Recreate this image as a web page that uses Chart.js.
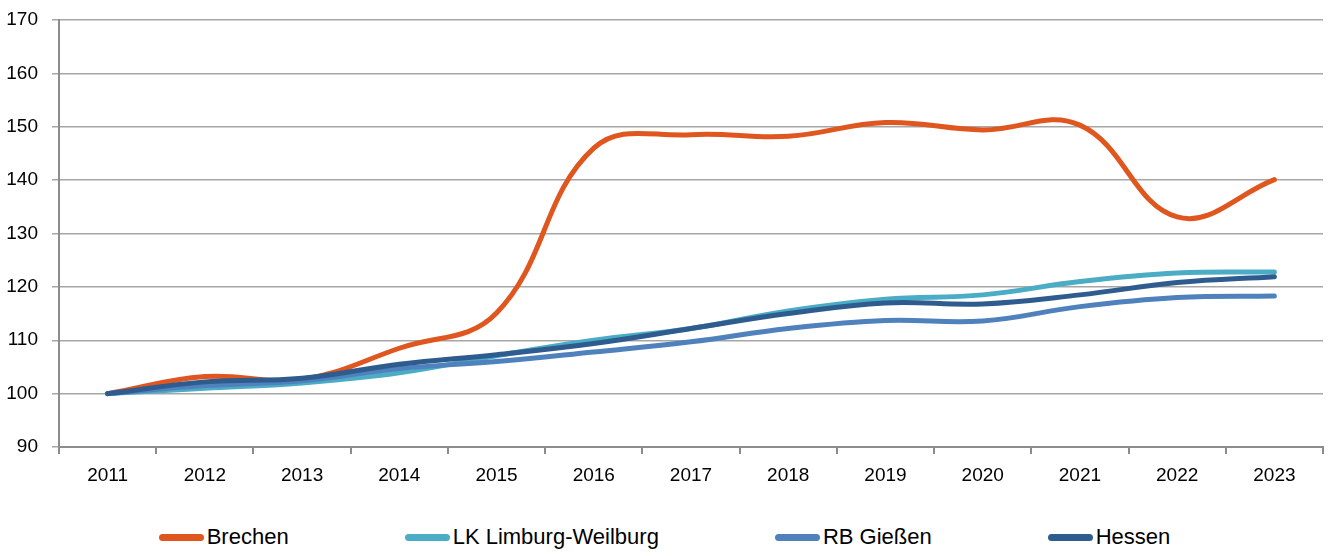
<!DOCTYPE html>
<html>
<head>
<meta charset="utf-8">
<script src="https://cdn.jsdelivr.net/npm/chart.js@4/dist/chart.umd.min.js"></script>
<style>
    body { margin: 0; background: #fff; }
    #wrap { position: relative; width: 1329px; height: 556px; }
    #legend {
        position: absolute; left: 0; top: 524px; width: 1329px;
        display: flex; justify-content: center; gap: 116px;
        font-family: "Liberation Sans", Arial, sans-serif;
        font-size: 22px; color: #000;
    }
    .item { display: flex; align-items: center; white-space: nowrap; }
    .swatch { display: inline-block; width: 45px; height: 7px; border-radius: 4px; margin-right: 3px; }
</style>
</head>
<body>
<div id="wrap">
    <canvas id="grafico" width="1329" height="500"></canvas>
    <div id="legend"></div>
</div>
<script>
// Datos (índice 2011 = 100)
const anios = ['2011', '2012', '2013', '2014', '2015', '2016', '2017', '2018', '2019', '2020', '2021', '2022', '2023'];
const brechen = [100, 103.2, 102.7, 108.5, 115.1, 146.0, 148.5, 148.2, 150.8, 149.4, 150.3, 133.1, 140.1];
const limburgWeilburg = [100, 101.0, 102.0, 103.9, 107.1, 110.0, 112.2, 115.5, 117.7, 118.5, 121.0, 122.6, 122.8];
const rbGiessen = [100, 101.5, 102.4, 104.7, 106.0, 107.8, 109.7, 112.2, 113.7, 113.6, 116.3, 118.0, 118.3];
const hessen = [100, 102.2, 102.9, 105.5, 107.3, 109.4, 112.2, 115.0, 117.0, 116.8, 118.5, 120.8, 121.9];

const yMin = 90, yMax = 170, yPaso = 10;

const series = [
    { label: 'Brechen', data: brechen, color: '#E0561F', order: 3 },
    { label: 'LK Limburg-Weilburg', data: limburgWeilburg, color: '#4BACC6', order: 2 },
    { label: 'RB Gießen', data: rbGiessen, color: '#4F81BD', order: 1 },
    { label: 'Hessen', data: hessen, color: '#2F5C8F', order: 0 }
];

const fuente = { family: '"Liberation Sans", Arial, sans-serif', size: 19 };

new Chart(document.getElementById('grafico'), {
    type: 'line',
    data: {
        labels: anios,
        datasets: series.map(s => ({
            label: s.label,
            data: s.data,
            borderColor: s.color,
            backgroundColor: s.color,
            borderWidth: 5,
            borderCapStyle: 'round',
            pointRadius: 0,
            tension: 0.4,
            order: s.order
        }))
    },
    options: {
        responsive: false,
        animation: false,
        layout: { padding: { top: 20, right: 6, left: 0, bottom: 0 } },
        plugins: { legend: { display: false }, tooltip: { enabled: false } },
        scales: {
            x: {
                offset: true,
                grid: { offset: true, drawOnChartArea: false, drawTicks: true, tickLength: 7, color: '#8C8C8C', lineWidth: 2 },
                border: { color: '#8C8C8C', width: 2 },
                ticks: { color: '#000', font: fuente, padding: 10, maxRotation: 0 },
                afterFit: scale => {
                    scale.height = 53;
                    scale.paddingLeft = 0;
                    scale.paddingRight = 0;
                }
            },
            y: {
                min: yMin,
                max: yMax,
                ticks: { stepSize: yPaso, color: '#000', font: fuente, padding: 14 },
                grid: { color: '#A6A6A6', lineWidth: 1.5, tickLength: 7 },
                border: { color: '#8C8C8C', width: 2 },
                afterFit: scale => {
                    scale.width = 59;
                    scale.paddingTop = 0;
                    scale.paddingBottom = 0;
                }
            }
        }
    }
});

// Leyenda en HTML
const legend = document.getElementById('legend');
series.forEach(s => {
    legend.innerHTML += `<div class="item"><span class="swatch" style="background:${s.color}"></span>${s.label}</div>`;
});
</script>
</body>
</html>
